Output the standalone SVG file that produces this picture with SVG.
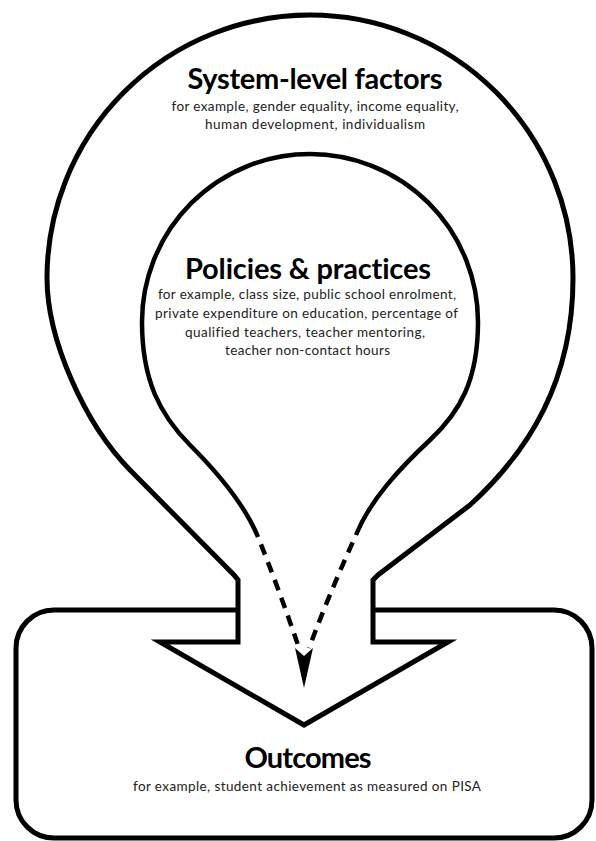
<svg xmlns="http://www.w3.org/2000/svg" width="596" height="841" viewBox="0 0 596 841">
<style>
.shape{fill:#fff;stroke:#000;stroke-width:5;stroke-linejoin:miter}
.inner{fill:none;stroke:#000;stroke-width:4.5}
.dash{fill:none;stroke:#000;stroke-width:4.5;stroke-dasharray:11 8;stroke-dashoffset:11}
.title{font-family:Lato,"Open Sans","Liberation Sans",sans-serif;font-weight:700;font-size:29px;fill:#000;text-anchor:middle;font-variant-ligatures:none}
.sub{font-family:Lato,"Open Sans","Liberation Sans",sans-serif;font-size:13.5px;fill:#222;text-anchor:middle;font-variant-ligatures:none}
</style>
<rect width="596" height="841" fill="#fff"/>
<g id="outcomes">
<rect class="shape" x="16" y="610" width="576" height="228" rx="38" ry="38" stroke-width="4.5"/>
<text class="title" x="308" y="768" textLength="127">Outcomes</text>
<text class="sub" x="307" y="791" textLength="348">for example, student achievement as measured on PISA</text>
</g>
<g id="system-level-factors">
<path class="shape" d="M238,580 L238,642 L160,642 L304,725 L448,642 L373,642 L373,580 L378,575 L470,505 C530,450 573,380 573,278 A263,263 0 0 0 47,278 C47,340 85,424 130,470 L234,575 Z"/>
<text class="title" x="315" y="89" textLength="255">System-level factors</text>
<text class="sub" x="315" y="111" textLength="287">for example, gender equality, income equality,</text>
<text class="sub" x="315" y="129" textLength="220">human development, individualism</text>
</g>
<g id="policies-practices">
<path class="inner" d="M258,537 C245,505 220,475 190,445 C160,415 142,380 142,322 A168,168 0 0 1 478,322 C478,380 460,412 430,440 C400,468 370,500 356,535"/>
<text class="title" x="308" y="279" textLength="246">Policies &amp; practices</text>
<text class="sub" x="307" y="299" textLength="298">for example, class size, public school enrolment,</text>
<text class="sub" x="306.5" y="318" textLength="303">private expenditure on education, percentage of</text>
<text class="sub" x="305" y="337" textLength="240">qualified teachers, teacher mentoring,</text>
<text class="sub" x="307.5" y="355" textLength="165">teacher non-contact hours</text>
</g>
<g id="connectors">
<path class="dash" d="M258,537 Q280,592 299,648"/>
<path class="dash" d="M356,535 Q330,592 309,648"/>
<path d="M295,648 L304,656 L313,648 L304,688 Z" fill="#000"/>
</g>
</svg>
